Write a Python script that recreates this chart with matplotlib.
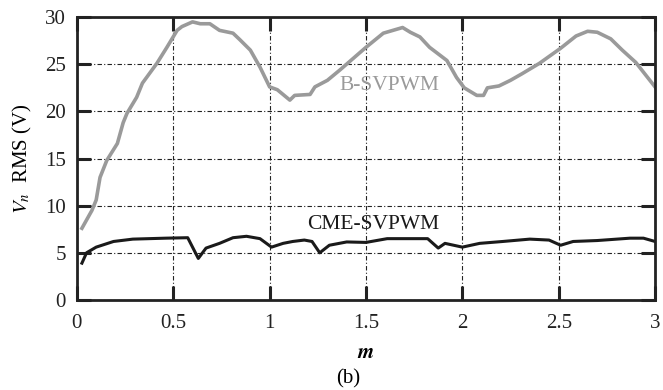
import numpy as np
import matplotlib
matplotlib.use("Agg")
from matplotlib import pyplot as plt

# B-SVPWM curve (grey)
m_b = [0.026, 0.078, 0.10, 0.12, 0.155, 0.21, 0.24, 0.26, 0.31, 0.34, 0.415, 0.467,
       0.52, 0.545, 0.60, 0.64, 0.69, 0.74, 0.81, 0.846, 0.90, 0.95, 1.0, 1.04,
       1.105, 1.13, 1.21, 1.235, 1.30, 1.365, 1.50, 1.59, 1.69, 1.73, 1.78, 1.83,
       1.92, 1.97, 2.01, 2.075, 2.11, 2.13, 2.19, 2.25, 2.31, 2.40, 2.51, 2.59,
       2.65, 2.70, 2.77, 2.83, 2.90, 3.0]
v_b = [7.6, 9.5, 10.6, 13.0, 14.8, 16.6, 18.8, 19.8, 21.5, 23.0, 25.1, 26.8,
       28.6, 29.0, 29.5, 29.3, 29.3, 28.6, 28.3, 27.6, 26.5, 24.7, 22.6, 22.3,
       21.2, 21.7, 21.8, 22.6, 23.3, 24.4, 26.8, 28.3, 28.9, 28.4, 27.9, 26.8,
       25.4, 23.6, 22.5, 21.7, 21.7, 22.5, 22.7, 23.3, 24.0, 25.1, 26.7, 28.0,
       28.5, 28.4, 27.7, 26.5, 25.2, 22.6]

# CME-SVPWM curve (black)
m_c = [0.026, 0.05, 0.10, 0.19, 0.29, 0.46, 0.575, 0.63, 0.67, 0.74, 0.81, 0.88,
       0.95, 1.01, 1.07, 1.12, 1.18, 1.22, 1.26, 1.31, 1.40, 1.50, 1.61, 1.82,
       1.875, 1.91, 2.0, 2.09, 2.21, 2.35, 2.45, 2.51, 2.575, 2.70, 2.87, 2.94, 3.0]
v_c = [3.9, 5.0, 5.6, 6.2, 6.45, 6.55, 6.6, 4.4, 5.5, 6.0, 6.6, 6.75,
       6.5, 5.6, 6.0, 6.2, 6.35, 6.2, 5.0, 5.8, 6.15, 6.1, 6.5, 6.5,
       5.5, 6.0, 5.6, 6.0, 6.2, 6.45, 6.35, 5.8, 6.2, 6.3, 6.55, 6.55, 6.2]

xticks = [0, 0.5, 1, 1.5, 2, 2.5, 3]
xticklabels = ["0", "0.5", "1", "1.5", "2", "2.5", "3"]
yticks = [0, 5, 10, 15, 20, 25, 30]

plt.rcParams['font.family'] = ['Liberation Serif', 'DejaVu Serif']
plt.rcParams['mathtext.fontset'] = 'stix'

fig = plt.figure(figsize=(6.63, 3.9), dpi=100)
ax = fig.add_axes([0.116, 0.231, 0.872, 0.725])

ax.plot(m_b, v_b, color='#9a9a9a', lw=2.6, solid_joinstyle='round')
ax.plot(m_c, v_c, color='#1a1a1a', lw=2.2, solid_joinstyle='round')

ax.text(1.62, 22.8, "B-SVPWM", color='#9a9a9a', fontsize=15.5, ha='center', va='center')
ax.text(1.54, 8.0, "CME-SVPWM", color='#1a1a1a', fontsize=15.5, ha='center', va='center')

ax.set_xlim(0, 3)
ax.set_ylim(0, 30)
ax.set_xticks(xticks)
ax.set_xticklabels(xticklabels)
ax.set_yticks(yticks)
ax.tick_params(direction='in', length=10, width=2.2, labelsize=15, top=True, right=True,
               colors='#222222')
ax.tick_params(axis='x', pad=10)
ax.tick_params(axis='y', pad=8)
ax.grid(True, color='#222222', lw=0.8, linestyle=(0, (4, 2, 1, 2)))
for s in ax.spines.values():
    s.set_linewidth(2.0)
    s.set_color('#222222')

ax.set_ylabel(r"$V_n$  RMS (V)", fontsize=15, labelpad=8)
ax.set_xlabel(r"$\mathbfit{m}$", fontsize=15, labelpad=8)
fig.text(0.525, 0.004, "(b)", fontsize=15, ha='center', va='bottom')

fig.savefig("out.png", dpi=100)
